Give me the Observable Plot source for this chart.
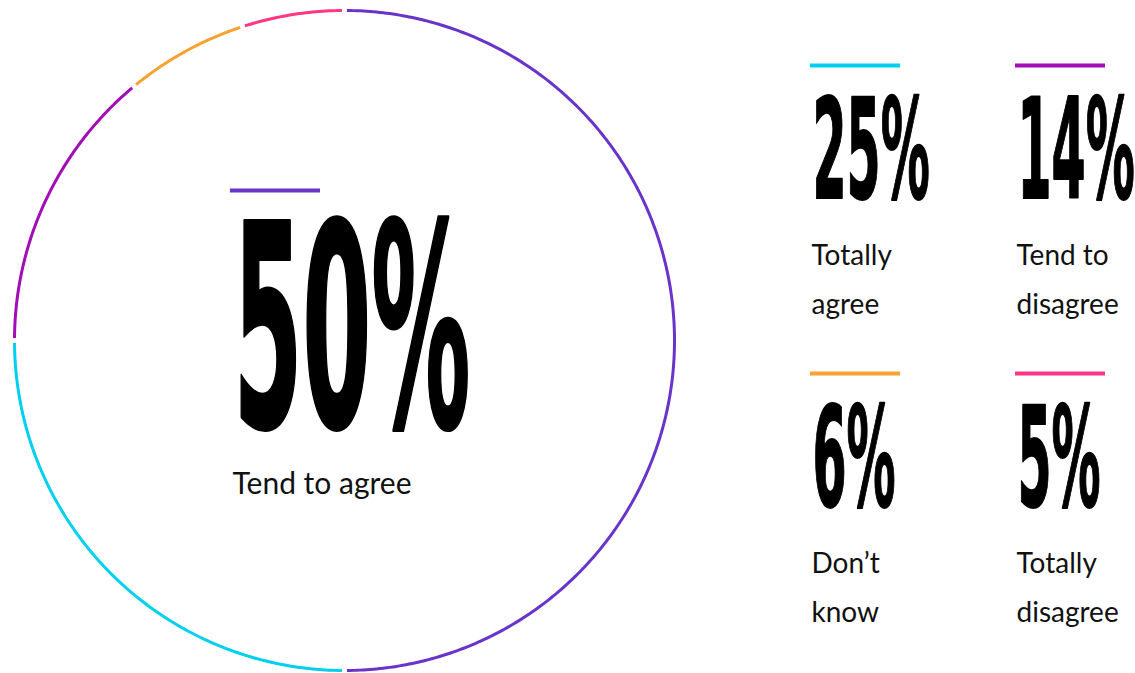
<!DOCTYPE html>
<html><head><meta charset="utf-8">
<script src="https://cdn.jsdelivr.net/npm/d3@7"></script>
<script src="https://cdn.jsdelivr.net/npm/@observablehq/plot@0.6"></script>
<style>html,body{margin:0;padding:0;background:#fff;} #chart svg{display:block}</style>
</head><body><div id="chart"></div>
<script>
// ---- data ----
const categories = ["Tend to agree", "Totally agree", "Tend to disagree", "Don’t know", "Totally disagree"];
const values = [50, 25, 14, 6, 5];
const labelLines = ["Tend to agree", "Totally\nagree", "Tend to\ndisagree", "Don’t\nknow", "Totally\ndisagree"];
const colors = ["#6834c9", "#00d0ef", "#a20db6", "#f8a232", "#ff3784"];

// ---- layout ----
const W = 1135, H = 673;
const ring = {cx: 344, cy: 340, r: 330, gap: 5, width: 3};
const hero = {x: 230, barY: 190, numBase: 426, labelBase: 493, numCap: 206, labelSize: 30, stroke: 3};
const grid = {cols: [810, 1015], rows: [65, 373], barLen: 90, numOffset: 132, labelOffset: 248, numCap: 102, labelSize: 28, lineGap: 49, stroke: 1.8};
const numFont = "'DejaVu Sans Condensed', 'DejaVu Sans', sans-serif";
const labelFont = "Lato, 'Open Sans', sans-serif";
const widthPerCap = 1.15; // condensed face proportion

const total = d3.sum(values);
let acc = 0;
const segments = values.map((v, i) => {
  const a0 = acc / total * 2 * Math.PI; acc += v;
  const a1 = acc / total * 2 * Math.PI;
  return {category: categories[i], a0, a1};
});
const gapA = ring.gap / ring.r;
const arcPts = segments.flatMap(s => {
  const s0 = s.a0 + gapA / 2, s1 = s.a1 - gapA / 2;
  const n = Math.max(2, Math.ceil((s1 - s0) / 0.01));
  return d3.range(n + 1).map(k => {
    const t = s0 + (s1 - s0) * k / n;
    return {category: s.category, x: ring.cx + ring.r * Math.sin(t), y: ring.cy - ring.r * Math.cos(t)};
  });
});

const stats = categories.map((c, i) => {
  const pct = values[i] + "%";
  if (i === 0) return {category: c, pct, label: labelLines[i], x: hero.x, barY: hero.barY, numY: hero.numBase, labelY: hero.labelBase, hero: true};
  const j = i - 1, col = j % 2, row = Math.floor(j / 2);
  const x = grid.cols[col], barY = grid.rows[row];
  return {category: c, pct, label: labelLines[i], x, barY, numY: barY + grid.numOffset, labelY: barY + grid.labelOffset, hero: false};
});
const heroStats = stats.filter(d => d.hero), gridStats = stats.filter(d => !d.hero);

const chart = Plot.plot({
  width: W, height: H, margin: 0,
  x: {type: "identity", axis: null}, y: {type: "identity", axis: null},
  color: {domain: categories, range: colors},
  marks: [
    Plot.line(arcPts, {x: "x", y: "y", z: "category", stroke: "category", strokeWidth: ring.width, strokeLinecap: "butt"}),
    Plot.ruleY(stats, {x1: "x", x2: d => d.x + grid.barLen, y: "barY", stroke: "category", strokeWidth: 4}),
    Plot.text(heroStats, {x: "x", y: "numY", text: "pct", textAnchor: "start", lineAnchor: "bottom", dx: 3,
      fontSize: hero.numCap / 0.729, fontFamily: numFont, fontWeight: "bold", fill: "#000", stroke: "#000", strokeWidth: hero.stroke}),
    Plot.text(gridStats, {x: "x", y: "numY", text: "pct", textAnchor: "start", lineAnchor: "bottom", dx: 2,
      fontSize: grid.numCap / 0.729, fontFamily: numFont, fontWeight: "bold", fill: "#000", stroke: "#000", strokeWidth: grid.stroke}),
    Plot.text(heroStats, {x: "x", y: "labelY", text: "label", textAnchor: "start", lineAnchor: "bottom", dx: 2,
      fontSize: hero.labelSize, fontFamily: labelFont, fill: "#111"}),
    Plot.text(gridStats, {x: "x", y: "labelY", text: "label", textAnchor: "start", lineAnchor: "bottom", dx: 1,
      fontSize: grid.labelSize, fontFamily: labelFont, fill: "#111", lineHeight: grid.lineGap / grid.labelSize})
  ]
});
document.getElementById("chart").appendChild(chart);

// condense the big numbers
const numNodes = Array.from(chart.querySelectorAll("text")).filter(t => /%$/.test(t.textContent));
const heroNode = numNodes.find(t => t.textContent === heroStats[0].pct);
if (heroNode) {
  const bw = heroNode.getBBox().width;
  const sx = (widthPerCap * hero.numCap) / bw;
  numNodes.forEach(t => {
    t.setAttribute("transform", (t.getAttribute("transform") || "") + ` scale(${sx},1)`);
  });
}
</script>
</body></html>
